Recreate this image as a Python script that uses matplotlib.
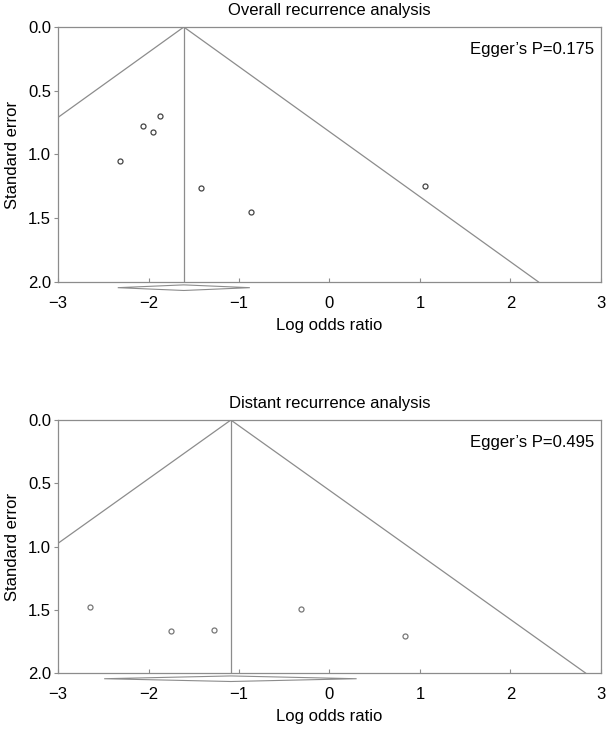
import matplotlib
matplotlib.use('Agg')
import matplotlib.pyplot as plt
import numpy as np

plt.rcParams['font.family'] = ['Liberation Sans', 'DejaVu Sans']

# overall recurrence: log odds ratio / standard error per study
overall_lor = [-1.87, -2.06, -1.95, -2.32, -1.42, -0.87, 1.06]
overall_se = [0.70, 0.78, 0.82, 1.05, 1.26, 1.45, 1.25]
overall_pooled = -1.61
overall_ci = (-2.34, -0.88)
overall_egger = 0.175

# distant recurrence
distant_lor = [-2.65, -1.75, -1.28, -0.31, 0.83]
distant_se = [1.48, 1.67, 1.66, 1.49, 1.71]
distant_pooled = -1.09
distant_ci = (-2.49, 0.30)
distant_egger = 0.495

line_col = '#8c8c8c'
fs = 12


def funnel(ax, lor, se, pooled, ci, egger, title, pt_col):
    se_max = 2.0
    s = np.array([0, se_max])
    ax.plot(pooled - 1.96 * s, s, color=line_col, lw=0.9)
    ax.plot(pooled + 1.96 * s, s, color=line_col, lw=0.9)
    ax.plot([pooled, pooled], [0, se_max], color=line_col, lw=0.9)
    ax.scatter(lor, se, s=13, facecolors='white', edgecolors=pt_col,
               linewidths=0.9, zorder=3)
    # pooled estimate diamond just below the axis
    yc, h = 2.045, 0.022
    ax.fill([ci[0], pooled, ci[1], pooled], [yc, yc - h, yc, yc + h],
            facecolor='white', edgecolor=line_col, lw=0.8, clip_on=False)
    ax.set_xlim(-3, 3)
    ax.set_ylim(2.0, 0.0)
    ax.set_xticks([-3, -2, -1, 0, 1, 2, 3])
    ax.set_xticklabels(['\u22123', '\u22122', '\u22121', '0', '1', '2', '3'])
    ax.set_yticks([0.0, 0.5, 1.0, 1.5, 2.0])
    ax.set_yticklabels(['0.0', '0.5', '1.0', '1.5', '2.0'])
    ax.tick_params(axis='x', direction='in', length=3, color=line_col,
                   labelsize=fs, pad=10)
    ax.tick_params(axis='y', direction='out', length=3, color=line_col,
                   labelsize=fs, pad=2)
    for sp in ax.spines.values():
        sp.set_color(line_col)
        sp.set_linewidth(0.9)
    ax.set_xlabel('Log odds ratio', fontsize=fs, labelpad=5)
    ax.set_ylabel('Standard error', fontsize=fs, labelpad=6)
    ax.set_title(title, fontsize=fs, pad=9)
    ax.text(0.988, 0.91, "Egger\u2019s P={:.3f}".format(egger),
            transform=ax.transAxes, ha='right', va='center', fontsize=fs)


fig = plt.figure(figsize=(6.07, 7.40), dpi=100)
ax1 = fig.add_axes([0.0956, 0.619, 0.8944, 0.3445])
ax2 = fig.add_axes([0.0956, 0.0905, 0.8944, 0.3419])

funnel(ax1, overall_lor, overall_se, overall_pooled, overall_ci,
       overall_egger, 'Overall recurrence analysis', '#444444')
funnel(ax2, distant_lor, distant_se, distant_pooled, distant_ci,
       distant_egger, 'Distant recurrence analysis', '#777777')

fig.savefig('out.png', dpi=100)
